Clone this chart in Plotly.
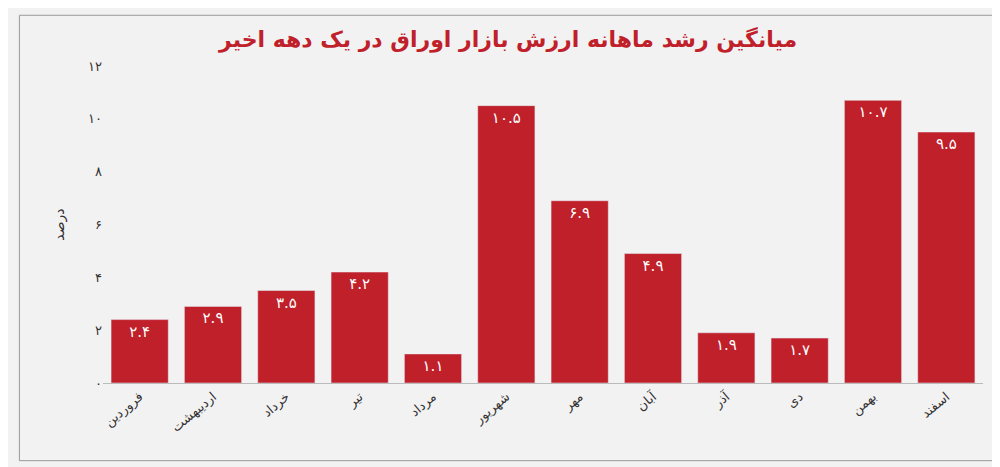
import plotly.graph_objects as go

months = ["فروردین","اردیبهشت","خرداد","تیر","مرداد","شهریور","مهر","آبان","آذر","دی","بهمن","اسفند"]
values = [2.4,2.9,3.5,4.2,1.1,10.5,6.9,4.9,1.9,1.7,10.7,9.5]
yticks = [0,2,4,6,8,10,12]

fa = str.maketrans("0123456789","۰۱۲۳۴۵۶۷۸۹")
def p(s): return str(s).translate(fa)

red = "#c0202a"
fig = go.Figure(go.Bar(
    x=months, y=values, marker_color=red, width=0.78,
    text=[p(v) for v in values], textposition="inside", insidetextanchor="start",
    textfont=dict(color="white", size=15, family="DejaVu Sans"),
))
fig.update_traces(insidetextanchor="end")
fig.update_layout(
    width=1000, height=467,
    paper_bgcolor="#f3f2f2", plot_bgcolor="#f3f2f2",
    margin=dict(l=95, r=25, t=58, b=92),
    title=dict(text="<b>میانگین رشد ماهانه ارزش بازار اوراق در یک دهه اخیر</b>",
               x=0.5, y=0.95, xanchor="center",
               font=dict(color=red, size=22, family="DejaVu Sans")),
    font=dict(family="DejaVu Sans", color="#333"),
    bargap=0.22,
    showlegend=False,
)
fig.update_yaxes(range=[0,12], tickvals=yticks, ticktext=[p(t) for t in yticks],
                 showgrid=False, zeroline=False, tickfont=dict(size=13),
                 title=dict(text="درصد", font=dict(size=14), standoff=20))
fig.update_xaxes(tickangle=-40, tickfont=dict(size=13), showline=True,
                 linecolor="#bbb", ticks="")
fig.add_shape(type="rect", xref="paper", yref="paper", x0=-0.095, x1=1.025,
              y0=-0.245, y1=1.16, line=dict(color="#999", width=1))
fig.write_html("out.html")
